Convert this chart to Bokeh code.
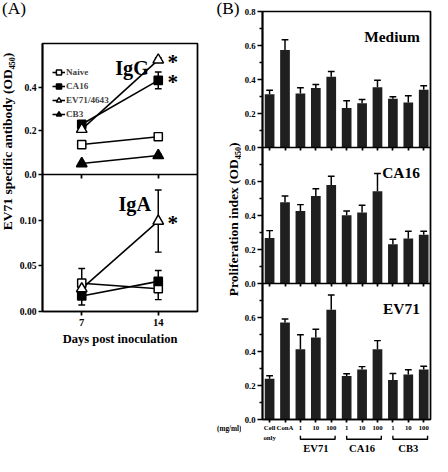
import math
from bokeh.plotting import figure
from bokeh.layouts import row, column
from bokeh.models import (Range1d, FixedTicker, LinearAxis, Label, Legend, LegendItem, Span)
from bokeh.core.properties import value
from bokeh.embed import file_html
from bokeh.resources import INLINE

# ---------------- data : panel A ----------------
days = [7, 14]
series_names = ["Naive", "CA16", "EV71/4643", "CB3"]
igg_naive = [0.137, 0.173]
igg_ca16 = [0.230, 0.431]
igg_ev71 = [0.207, 0.525]
igg_cb3 = [0.050, 0.087]
igg_naive_err = [0.006, 0.008]
igg_ca16_err = [0.010, 0.038]
igg_ev71_err = [0.008, 0.010]
igg_cb3_err = [0.004, 0.006]
iga_naive = [0.031, 0.025]
iga_ca16 = [0.017, 0.033]
iga_ev71 = [0.025, 0.099]
iga_naive_err = [0.016, 0.012]
iga_ca16_err = [0.010, 0.012]
iga_ev71_err = [0.004, 0.034]
igg_ticks = [0.0, 0.2, 0.4, 0.6]
iga_ticks = [0.0, 0.05, 0.10]

# ---------------- data : panel B ----------------
x_labels = ["Cell", "ConA", "1", "10", "100", "1", "10", "100", "1", "10", "100"]
cell_sub = "only"
unit_label = "(mg/ml)"
groups = ["EV71", "CA16", "CB3"]
group_first = [2, 5, 8]
group_last = [4, 7, 10]
panel_names = ["Medium", "CA16", "EV71"]
medium_vals = [0.313, 0.574, 0.317, 0.350, 0.416, 0.233, 0.261, 0.354, 0.287, 0.264, 0.339]
medium_err = [0.024, 0.060, 0.035, 0.021, 0.031, 0.042, 0.022, 0.041, 0.011, 0.041, 0.024]
ca16_vals = [0.267, 0.478, 0.427, 0.515, 0.580, 0.402, 0.418, 0.542, 0.231, 0.265, 0.287]
ca16_err = [0.044, 0.037, 0.037, 0.043, 0.051, 0.025, 0.042, 0.105, 0.029, 0.042, 0.020]
ev71_vals = [0.239, 0.571, 0.413, 0.483, 0.645, 0.256, 0.294, 0.413, 0.233, 0.265, 0.294]
ev71_err = [0.019, 0.020, 0.086, 0.048, 0.087, 0.013, 0.017, 0.051, 0.038, 0.027, 0.019]
b_ticks = [0.0, 0.2, 0.4, 0.6, 0.8]
b_minor = [0.1, 0.3, 0.5, 0.7]

# ---------------- geometry / style ----------------
K = 0.964
def S(v): return v * K
def I(v): return int(round(v * K))
def FS(v): return f"{v*K:.2f}px"
FONT = "Liberation Serif"
LW = S(1.8)
TOTAL_H = I(472)


def mkfig(w, h, xr, yr, bl=0, br=0, bt=0, bb=0, outline=True):
    p = figure(width=w, height=h, x_range=xr, y_range=yr, output_backend="svg",
               toolbar_location=None, x_axis_location=None, y_axis_location=None,
               min_border_left=bl, min_border_right=br, min_border_top=bt,
               min_border_bottom=bb)
    p.title.visible = False
    p.xgrid.visible = False
    p.ygrid.visible = False
    p.background_fill_color = "white"
    p.border_fill_color = "white"
    if outline:
        p.outline_line_color = "black"
        p.outline_line_width = LW
        p.outline_line_alpha = 1.0
    else:
        p.outline_line_color = None
    return p


def style_axis(ax, size, tick_out, minor_out=0, standoff=2):
    ax.axis_line_color = "black"
    ax.axis_line_width = LW
    ax.major_tick_line_color = "black"
    ax.major_tick_line_width = LW
    ax.major_tick_out = tick_out
    ax.major_tick_in = 0
    if minor_out:
        ax.minor_tick_out = minor_out
        ax.minor_tick_in = 0
        ax.minor_tick_line_width = LW
        ax.minor_tick_line_color = "black"
    else:
        ax.minor_tick_line_color = None
    ax.major_label_text_font = FONT
    ax.major_label_text_font_style = "bold"
    ax.major_label_text_font_size = size
    ax.major_label_text_color = "black"
    ax.major_label_standoff = standoff


def seam_ticks(p, loc, ticks, length):
    # x ticks of an upper panel, drawn downward from the shared border line
    ax = LinearAxis(fixed_location=loc, ticker=FixedTicker(ticks=ticks, minor_ticks=[]))
    ax.axis_line_color = None
    ax.major_tick_line_color = "black"
    ax.major_tick_line_width = LW
    ax.major_tick_out = length
    ax.major_tick_in = 0
    ax.minor_tick_line_color = None
    ax.major_label_text_color = None
    p.add_layout(ax, "below")


def to_main(v, rng, main):
    # position of value v of a stacked panel (range rng) on the figure's main y range
    return round(main.start + (v - rng.start) * (main.end - main.start) / (rng.end - rng.start), 9)


def label(p, x, y, text, size, style="bold", align="center", baseline="middle",
          angle=0.0, x_offset=0, y_offset=0, yr="default"):
    p.add_layout(Label(x=x, y=y, text=text, text_font=FONT, text_font_style=style,
                       text_font_size=size, text_align=align, text_baseline=baseline,
                       text_color="black", angle=angle, x_offset=x_offset,
                       y_offset=y_offset, y_range_name=yr))


# ================= Panel A =================
A_W = I(224)
hdr_h = I(20)
labA_w = I(17)
pA_w = A_W - labA_w
pA_h = TOTAL_H - hdr_h
A_bl = I(42) - labA_w
A_br = I(224) - I(204)
A_bt = I(45) - hdr_h
A_seam = I(181)
A_bot = I(323)
hG = A_seam - I(45)
hA = A_bot - A_seam
H_A = A_bot - I(45)

hdrA = mkfig(A_W, hdr_h, Range1d(0, 1), Range1d(0, 1), outline=False)
label(hdrA, S(14) / A_W, 1 - S(8.5) / hdr_h, "(A)", FS(18), style="normal")

labA = mkfig(labA_w, pA_h, Range1d(0, 1), Range1d(0, 1), outline=False)
label(labA, S(7) / labA_w, 1 - (S(185) - hdr_h) / pA_h,
      "EV71 specific antibody (OD\u2084\u2085\u2080)", FS(14), angle=math.pi / 2)

xrA = Range1d(3.41, 17.59)
yrA = Range1d(0, 0.15 * H_A / hA)                      # IgA scale (lower part)
rG = Range1d(0.6 - 0.6 * H_A / hG, 0.6)                # IgG scale (upper part)
pA = mkfig(pA_w, pA_h, xrA, yrA, bl=A_bl, br=A_br, bt=A_bt, bb=TOTAL_H - A_bot)
pA.extra_y_ranges = {"igg": rG}

tA = [round(t, 9) for t in iga_ticks]
labelsA = {t: f"{t:.2f}" for t in tA}
for t in igg_ticks:
    pos = to_main(t, rG, yrA)
    tA.append(pos)
    labelsA[pos] = f"{t:.1f}"
axA = LinearAxis(ticker=FixedTicker(ticks=tA, minor_ticks=[]), major_label_overrides=labelsA)
style_axis(axA, FS(10), I(4), 0, 2)
pA.add_layout(axA, "left")

axAx = LinearAxis(ticker=FixedTicker(ticks=days, minor_ticks=[]),
                  major_label_overrides={d: str(d) for d in days})
style_axis(axAx, FS(11), I(4), 0, 3)
axAx.axis_label = "Days post inoculation"
axAx.axis_label_text_font = FONT
axAx.axis_label_text_font_style = "bold"
axAx.axis_label_text_font_size = FS(13)
axAx.axis_label_text_color = "black"
axAx.axis_label_standoff = 3
pA.add_layout(axAx, "below")
seam = to_main(0.0, rG, yrA)
pA.add_layout(Span(location=seam, dimension="width", line_color="black", line_width=LW))
seam_ticks(pA, seam, days, I(4))

SQ = S(8.5)
TR = S(11)
styles = {
    "Naive": ("square", "white", SQ),
    "CA16": ("square", "black", SQ),
    "EV71/4643": ("triangle", "white", TR),
    "CB3": ("triangle", "black", TR),
}


def draw_panel(p, data, yr):
    rends = {}
    cap = S(7)
    for name, vals, errs in data:
        lo = [v - e for v, e in zip(vals, errs)]
        hi = [v + e for v, e in zip(vals, errs)]
        p.segment(x0=days, y0=lo, x1=days, y1=hi, line_color="black",
                  line_width=LW * 0.85, y_range_name=yr)
        p.scatter(x=days + days, y=lo + hi, marker="dash", size=cap,
                  line_color="black", line_width=LW * 0.85, y_range_name=yr)
    for name, vals, errs in data:
        rends[name] = [p.line(x=days, y=vals, line_color="black", line_width=LW * 0.9,
                              y_range_name=yr)]
    for name, vals, errs in data:
        mk, fill, sz = styles[name]
        rends[name].append(p.scatter(x=days, y=vals, marker=mk, size=sz, fill_color=fill,
                                     line_color="black", line_width=LW * 0.85,
                                     y_range_name=yr))
    return rends


rendG = draw_panel(pA, [("Naive", igg_naive, igg_naive_err), ("CA16", igg_ca16, igg_ca16_err),
                        ("EV71/4643", igg_ev71, igg_ev71_err), ("CB3", igg_cb3, igg_cb3_err)],
                   "igg")
rendA = draw_panel(pA, [("Naive", iga_naive, iga_naive_err), ("CA16", iga_ca16, iga_ca16_err),
                        ("EV71/4643", iga_ev71, iga_ev71_err)], "default")

leg = Legend(items=[LegendItem(label=n, renderers=rendG[n]) for n in series_names],
             location=(10, 190), glyph_width=13, glyph_height=14, label_height=8,
             label_standoff=1, spacing=0, padding=0, margin=0,
             border_line_color=None, background_fill_alpha=0,
             label_text_font=FONT, label_text_font_style="bold",
             label_text_font_size=FS(9.5), label_text_line_height=1.0)
pA.add_layout(leg)

label(pA, 11.6, 0.49, "IgG", FS(21), baseline="alphabetic", yr="igg")
label(pA, 11.85, 0.1175, "IgA", FS(21), baseline="alphabetic")
for yv, yr in ((igg_ev71[1], "igg"), (igg_ca16[1], "igg"), (iga_ev71[1], "default")):
    label(pA, days[1], yv, "*", FS(22), x_offset=S(15), y_offset=-S(2), yr=yr)

colA = column(hdrA, row(labA, pA))

# ================= Panel B =================
labB_w = I(250) - I(224)
B_W = I(448) - I(250)
B_bl = I(271.7) - I(250)
B_br = I(448) - I(446)
B_bt = I(11)
B_fh = 3 * 136
B_bb = 14
B_H = B_bt + B_fh + B_bb

labB = mkfig(labB_w, TOTAL_H, Range1d(0, 1), Range1d(0, 1), outline=False)
label(labB, 11.5 / labB_w, 1 - S(8.5) / TOTAL_H, "(B)", FS(18), style="normal")
label(labB, (S(241.5) - I(224)) / labB_w, 1 - S(227) / TOTAL_H,
      "Proliferation index (OD\u2084\u2085\u2080)", FS(14), angle=math.pi / 2)
label(labB, 1.0, 1 - S(445) / TOTAL_H, unit_label, FS(7.5), align="right")

xrB = Range1d(-0.46, 10.44)
xB = list(range(len(x_labels)))
yrB = Range1d(0, 2.4)
pB = mkfig(B_W, B_H, xrB, yrB, bl=B_bl, br=B_br, bt=B_bt, bb=B_bb)
panel_ranges = {"medium": Range1d(-1.6, 0.8), "ca16": Range1d(-0.8, 1.6)}
pB.extra_y_ranges = panel_ranges
range_names = ["medium", "ca16", "default"]
rng_of = {"medium": panel_ranges["medium"], "ca16": panel_ranges["ca16"], "default": yrB}

tB, mB, labelsB = [], [], {}
for k, rn in enumerate(range_names):
    ticks = b_ticks if k == 0 else b_ticks[:-1]
    for t in ticks:
        pos = to_main(t, rng_of[rn], yrB)
        tB.append(pos)
        labelsB[pos] = f"{t:.1f}"
    for t in b_minor:
        mB.append(to_main(t, rng_of[rn], yrB))
ayB = LinearAxis(ticker=FixedTicker(ticks=tB, minor_ticks=mB), major_label_overrides=labelsB)
style_axis(ayB, FS(9), I(5), I(3), 2)
pB.add_layout(ayB, "left")

for rn in ("medium", "ca16"):
    loc = to_main(0.0, rng_of[rn], yrB)
    pB.add_layout(Span(location=loc, dimension="width", line_color="black", line_width=LW))
    seam_ticks(pB, loc, xB, I(3))

axBx = LinearAxis(ticker=FixedTicker(ticks=xB, minor_ticks=[]),
                  major_label_overrides={i: t for i, t in zip(xB, x_labels)})
style_axis(axBx, FS(7), I(3), 0, 1)
pB.add_layout(axBx, "below")

panel_vals = [medium_vals, ca16_vals, ev71_vals]
panel_errs = [medium_err, ca16_err, ev71_err]
for k, rn in enumerate(range_names):
    vals = panel_vals[k]
    caps = [v + e for v, e in zip(vals, panel_errs[k])]
    pB.vbar(x=xB, top=vals, bottom=0, width=0.63, fill_color="#1f1f1f", line_color=None,
            y_range_name=rn)
    pB.segment(x0=xB, y0=vals, x1=xB, y1=caps, line_color="black", line_width=LW * 0.85,
               y_range_name=rn)
    pB.scatter(x=xB, y=caps, marker="dash", size=S(7), line_color="black",
               line_width=LW * 0.85, y_range_name=rn)
    label(pB, 9.75, 0.655, panel_names[k], FS(16), align="right", baseline="alphabetic",
          yr=rn)

hlp = mkfig(B_W, TOTAL_H - B_H, xrB, Range1d(0, 1), bl=B_bl, br=B_br, outline=False)
hlp.text(x=[xB[0]], y=[0.8], text=[cell_sub], text_font=value(FONT), text_font_style="bold",
         text_font_size=FS(7), text_align="center", text_baseline="middle", text_color="black")
centers = [(f + l) / 2 for f, l in zip(group_first, group_last)]
hlp.text(x=centers, y=[0.3] * len(groups), text=groups, text_font=value(FONT),
         text_font_style="bold", text_font_size=FS(11), text_align="center",
         text_baseline="middle", text_color="black")
xs = [[f, f, l + 0.25, l + 0.25] for f, l in zip(group_first, group_last)]
ys = [[0.9, 0.74, 0.74, 0.9] for _ in groups]
hlp.multi_line(xs=xs, ys=ys, line_color="black", line_width=LW * 0.8)

layout = row(colA, labB, column(pB, hlp))
open("out.html", "w").write(file_html(layout, INLINE))
